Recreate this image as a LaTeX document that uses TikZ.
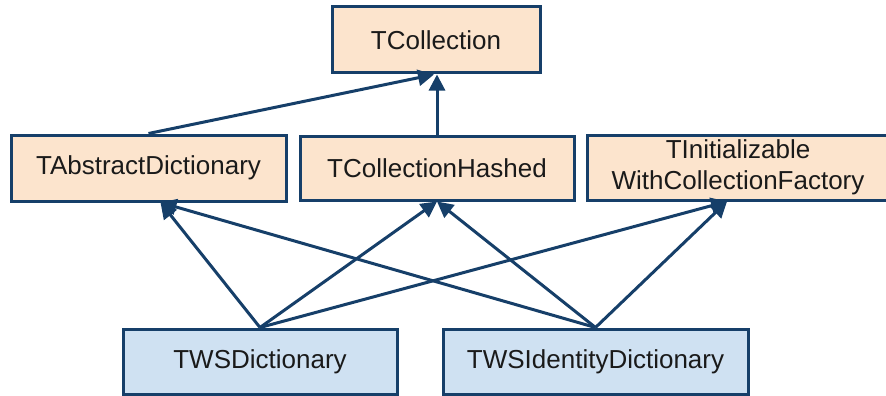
\documentclass[tikz,border=0pt]{standalone}
\usepackage{fontspec}
\setmainfont{Liberation Sans}
\usetikzlibrary{arrows.meta,calc}
\definecolor{peach}{HTML}{FCE4CD}
\definecolor{lblue}{HTML}{CFE1F2}
\definecolor{navy}{HTML}{163F69}
\definecolor{txt}{HTML}{1A1A1A}
\tikzset{
  cls/.style={draw=navy, line width=3pt, rectangle, inner sep=0pt, align=center,
    font=\fontsize{26}{31}\selectfont, text=txt},
  base/.style={cls, fill=peach},
  leaf/.style={cls, fill=lblue},
  inh/.style={draw=navy, line width=3pt, -{Triangle[length=16pt,width=16pt]}}
}
\begin{document}
\begin{tikzpicture}[x=1pt,y=-1pt]
\path[use as bounding box] (0,0) rectangle (886,396);
\begin{scope}
\clip (0,0) rectangle (886,396);
\node[base, minimum width=208pt, minimum height=66pt] (tcoll) at (436,40) {TCollection};
\node[base, minimum width=275pt, minimum height=66pt] (tabs) at (148.5,168) {TAbstractDictionary};
\node[base, minimum width=274pt, minimum height=64pt] (tch) at (437,168) {TCollectionHashed};
\node[base, minimum width=302pt, minimum height=65pt] (tinit) at (738,167.5) {TInitializable\\WithCollectionFactory};
\node[leaf, minimum width=274pt, minimum height=65pt] (twsd) at (260,361.5) {TWSDictionary};
\node[leaf, minimum width=305pt, minimum height=65pt] (twsid) at (595.5,361.5) {TWSIdentityDictionary};

\coordinate (absin) at ($(tabs.south)+(12,0)$);
\coordinate (initin) at ($(tinit.south)+(-11,0)$);
\coordinate (collin) at ($(tcoll.south)+(-2,0)$);

\draw[inh] (tabs.north) -- (collin);
\draw[inh] (tch.north) -- (tch.north |- tcoll.south);
\draw[inh] (twsd.north) -- (absin);
\draw[inh] (twsd.north) -- (tch.south);
\draw[inh] (twsd.north) -- (initin);
\draw[inh] (twsid.north) -- (absin);
\draw[inh] (twsid.north) -- (tch.south);
\draw[inh] (twsid.north) -- (initin);
\end{scope}
\end{tikzpicture}
\end{document}
